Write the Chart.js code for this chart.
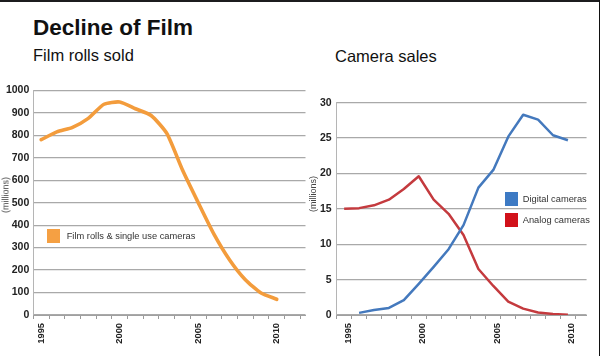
<!DOCTYPE html>
<html><head><meta charset="utf-8">
<script src="https://cdn.jsdelivr.net/npm/chart.js@4.4.1/dist/chart.umd.min.js"></script>
<style>
html,body{margin:0;padding:0;background:#fff;}
body{width:600px;height:356px;position:relative;overflow:hidden;font-family:"Liberation Sans",Arial,Helvetica,sans-serif;}
.abs{position:absolute;white-space:nowrap;}
#topbar{left:0;top:0;width:600px;height:2px;background:#1c1c1e;}
#rightbar{left:598.5px;top:0;width:1.5px;height:356px;background:#111;}
#title{left:33px;top:17px;font-size:22.5px;line-height:22.5px;font-weight:bold;color:#111;}
.sub{font-size:16.5px;line-height:16.5px;color:#111;top:47px;}
.ytitle{font-size:9px;line-height:9px;color:#444;transform:translate(-50%,-50%) rotate(-90deg);}
.leg{font-size:9.3px;line-height:14px;height:14px;color:#333;display:flex;align-items:center;}
.sw{width:13px;height:14px;flex:none;}
canvas{position:absolute;}
</style>
</head><body>
<div id="topbar" class="abs"></div>
<div id="rightbar" class="abs"></div>
<div id="title" class="abs">Decline of Film</div>
<div class="abs sub" style="left:33px">Film rolls sold</div>
<div class="abs sub" style="left:335px;top:47.7px">Camera sales</div>
<canvas id="c1" width="310" height="276" style="left:0;top:80px"></canvas>
<canvas id="c2" width="298" height="276" style="left:300px;top:80px"></canvas>
<div class="abs ytitle" style="left:6px;top:195px">(millions)</div>
<div class="abs ytitle" style="left:312.5px;top:193.5px">(millions)</div>
<script>
// ---- data ----
const years = [1995,1996,1997,1998,1999,2000,2001,2002,2003,2004,2005,2006,2007,2008,2009,2010];
const tickYears = [1995,1996,1997,1998,1999,2000,2001,2002,2003,2004,2005,2006,2007,2008,2009,2010,2011];
const xLabelYears = [1995,2000,2005,2010];
const filmRolls = [780,815,835,875,938,948,918,888,808,645,500,360,245,157,98,70];
const digitalCameras = [null,0.3,0.7,1.0,2.1,4.4,6.8,9.3,12.7,18.0,20.5,25.2,28.3,27.6,25.4,24.7];
const analogCameras = [15.0,15.1,15.5,16.3,17.8,19.6,16.3,14.3,11.3,6.5,4.1,1.9,0.9,0.35,0.15,0.05];
const filmTicks = [0,100,200,300,400,500,600,700,800,900,1000];
const cameraTicks = [0,5,10,15,20,25,30];

const pts = arr => years.map((yr,i) => ({x: yr, y: arr[i]}));
const FONT = '"Liberation Sans", Arial, Helvetica, sans-serif';

function makeOptions(cfg){
  return {
    responsive:false, animation:false,
    layout:{padding:{top:cfg.padTop,right:cfg.padRight,left:0,bottom:0}},
    plugins:{legend:{display:false},tooltip:{enabled:false}},
    scales:{
      x:{type:'linear',min:1994.5,max:cfg.xMax,
        afterBuildTicks:s=>{s.ticks=tickYears.map(v=>({value:v}));},
        afterFit:s=>{s.height=41;},
        grid:{offset:true,drawOnChartArea:false,drawTicks:true,tickLength:4,color:'#9a9a9a',lineWidth:1},
        border:{display:true,color:'#a0a0a0',width:1},
        ticks:{autoSkip:false,minRotation:90,maxRotation:90,padding:4,labelOffset:cfg.labelOffset,
          color:'#222',font:{family:FONT,size:9.3,weight:'bold'},
          callback:v=>xLabelYears.includes(v)?String(v):''}
      },
      y:{min:cfg.yTicks[0],max:cfg.yTicks[cfg.yTicks.length-1],
        afterBuildTicks:s=>{s.ticks=cfg.yTicks.map(v=>({value:v}));},
        afterFit:s=>{s.width=cfg.yWidth;},
        grid:{drawTicks:false,color:'#a9a9a9',lineWidth:1.2},
        border:{display:true,color:'#b5b5b5',width:1},
        ticks:{padding:cfg.yPad,color:'#222',font:{family:FONT,size:10.5,weight:'bold'},callback:v=>String(v)}
      }
    }
  };
}

const chart1 = new Chart(document.getElementById('c1'),{
  type:'line',
  data:{datasets:[
    {label:'Film rolls & single use cameras',data:pts(filmRolls),borderColor:'#F39C3C',backgroundColor:'#F5A043',
     borderWidth:3.6,pointRadius:0,tension:0.2,borderCapStyle:'round',borderJoinStyle:'round'}
  ]},
  options:makeOptions({padTop:7.5,padRight:4.5,xMax:2011.83,labelOffset:0,yTicks:filmTicks,yWidth:33.3,yPad:4})
});

const chart2 = new Chart(document.getElementById('c2'),{
  type:'line',
  data:{datasets:[
    {label:'Digital cameras',data:pts(digitalCameras),borderColor:'#4479BD',backgroundColor:'#3D7AC4',
     borderWidth:2.5,pointRadius:0,tension:0,borderJoinStyle:'round'},
    {label:'Analog cameras',data:pts(analogCameras),borderColor:'#C43A3E',backgroundColor:'#D1111A',
     borderWidth:2.5,pointRadius:0,tension:0,borderJoinStyle:'round'}
  ]},
  options:makeOptions({padTop:22.7,padRight:0,xMax:2011.25,labelOffset:4,yTicks:cameraTicks,yWidth:36.7,yPad:5})
});

// HTML legends built from the datasets
function legend(chart, left, tops, gap){
  chart.data.datasets.forEach((ds,i)=>{
    const d=document.createElement('div');
    d.className='abs leg';
    d.style.left=left+'px'; d.style.top=tops[i]+'px';
    const sw=document.createElement('span'); sw.className='sw'; sw.style.background=ds.backgroundColor; sw.style.marginRight=gap+'px';
    const t=document.createElement('span'); t.textContent=ds.label;
    d.appendChild(sw); d.appendChild(t);
    document.body.appendChild(d);
  });
}
legend(chart1, 47, [228.5], 6.7);
legend(chart2, 505, [192, 213], 4.7);
</script>
</body></html>
